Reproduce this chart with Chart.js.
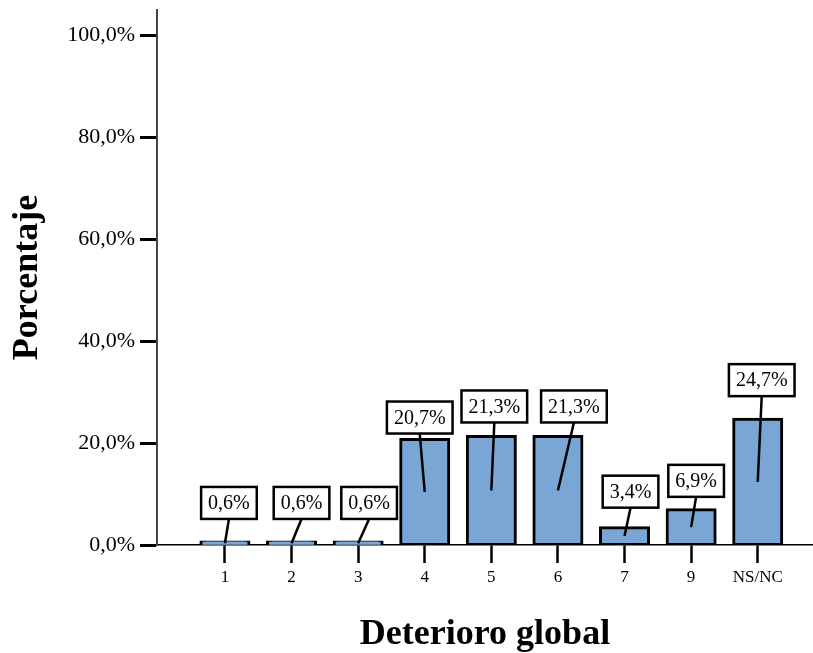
<!DOCTYPE html>
<html>
<head>
<meta charset="utf-8">
<script src="https://cdn.jsdelivr.net/npm/chart.js@4"></script>
<style>
  html, body { margin: 0; padding: 0; background: #fff; }
  #wrap { width: 813px; height: 653px; }
</style>
</head>
<body>
<div id="wrap"><canvas id="chart" width="813" height="653"></canvas></div>
<script>
// categories along the x axis and the percentage for each one
const categories = ['1', '2', '3', '4', '5', '6', '7', '9', 'NS/NC'];
const percentages = [0.6, 0.6, 0.6, 20.7, 21.3, 21.3, 3.4, 6.9, 24.7];
const yTicks = [0, 20, 40, 60, 80, 100];

const serif = "'Liberation Serif', 'Times New Roman', serif";
const fmt = v => v.toFixed(1).replace('.', ',') + '%';

// callout boxes drawn above each bar, leader line down to the bar middle
const calloutPlugin = {
    id: 'callouts',
    afterDatasetsDraw(chart, args, opts) {
        const ctx = chart.ctx;
        const meta = chart.getDatasetMeta(0);
        ctx.save();
        ctx.font = '20px ' + serif;
        ctx.textAlign = 'center';
        ctx.textBaseline = 'middle';
        meta.data.forEach((bar, i) => {
            const text = fmt(percentages[i]);
            const w = ctx.measureText(text).width + 14;
            const h = 32;
            const cx = bar.x + opts.shift[i];
            const bottom = bar.y - opts.gap[i];
            const top = bottom - h;

            ctx.strokeStyle = '#000';
            ctx.lineWidth = 2.5;
            ctx.beginPath();
            ctx.moveTo(cx, bottom);
            ctx.lineTo(bar.x, (bar.y + bar.base) / 2);
            ctx.stroke();

            ctx.fillStyle = '#fff';
            ctx.fillRect(cx - w / 2, top, w, h);
            ctx.strokeRect(cx - w / 2, top, w, h);

            ctx.fillStyle = '#000';
            ctx.fillText(text, cx, top + h / 2 + 1);
        });
        ctx.restore();
    }
};

new Chart(document.getElementById('chart'), {
    type: 'bar',
    data: {
        datasets: [{
            data: categories.map((c, i) => ({ x: i + 1, y: percentages[i] })),
            backgroundColor: '#79a6d5',
            borderColor: '#000',
            borderWidth: 3,
            borderSkipped: false,
            inflateAmount: 1.5,
            barThickness: 48
        }]
    },
    plugins: [calloutPlugin],
    options: {
        responsive: false,
        animation: false,
        devicePixelRatio: 1,
        layout: { padding: { top: 10, right: 0, bottom: 0, left: 0 } },
        plugins: {
            legend: { display: false },
            tooltip: { enabled: false },
            callouts: {
                shift: [4, 10, 11, -5, 3, 16, 6, 5, 4],
                gap: [23, 23, 23, 6, 14, 14, 20, 13, 23]
            }
        },
        scales: {
            x: {
                type: 'linear',
                offset: false,
                min: -0.02,
                max: 9.83,
                afterBuildTicks: scale => {
                    scale.ticks = categories.map((c, i) => ({ value: i + 1 }));
                },
                afterFit: scale => {
                    scale.height = 108;
                    scale.paddingLeft = 0;
                    scale.paddingRight = 0;
                },
                grid: {
                    offset: false,
                    drawOnChartArea: false,
                    tickLength: 18,
                    tickWidth: 2.5,
                    tickColor: '#000'
                },
                border: { color: '#000', width: 1.5 },
                ticks: {
                    autoSkip: false,
                    maxRotation: 0,
                    padding: 4,
                    color: '#000',
                    font: { family: serif, size: 17 },
                    callback: v => categories[v - 1]
                },
                title: {
                    display: true,
                    text: 'Deterioro global',
                    color: '#000',
                    padding: { top: 0, bottom: 0 },
                    font: { family: serif, size: 36, weight: 'bold', lineHeight: 1 }
                }
            },
            y: {
                min: 0,
                max: 105,
                afterBuildTicks: scale => {
                    scale.ticks = yTicks.map(v => ({ value: v }));
                },
                afterFit: scale => {
                    scale.width = 157;
                    scale.paddingTop = 0;
                    scale.paddingBottom = 0;
                },
                grid: {
                    drawOnChartArea: false,
                    tickLength: 17,
                    tickWidth: 3,
                    tickColor: '#000'
                },
                border: { color: '#444', width: 2 },
                ticks: {
                    padding: 5,
                    color: '#000',
                    font: { family: serif, size: 22 },
                    callback: v => fmt(v)
                },
                title: {
                    display: true,
                    text: 'Porcentaje',
                    color: '#000',
                    padding: { top: 10, bottom: 0 },
                    font: { family: serif, size: 36, weight: 'bold', lineHeight: 1 }
                }
            }
        }
    }
});
</script>
</body>
</html>
